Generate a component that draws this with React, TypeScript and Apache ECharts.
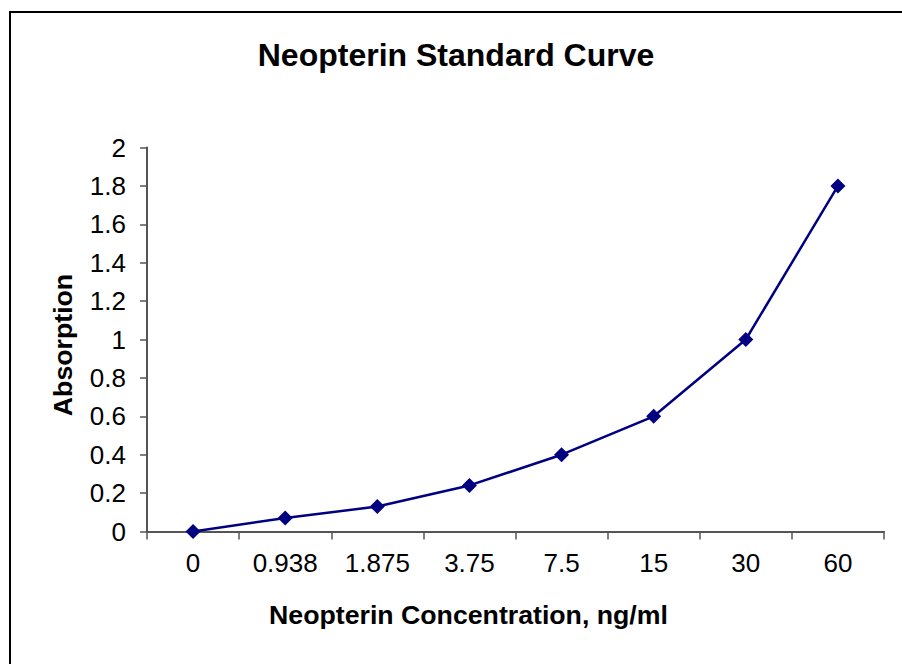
import React, { useEffect, useRef } from "react";
import * as echarts from "echarts";

const categories = ["0", "0.938", "1.875", "3.75", "7.5", "15", "30", "60"];
const absorption = [0, 0.07, 0.13, 0.24, 0.4, 0.6, 1.0, 1.8];
const titleText = "Neopterin Standard Curve";
const xName = "Neopterin Concentration, ng/ml";
const yName = "Absorption";

const FONT = "Arial, 'Liberation Sans', Helvetica, sans-serif";

export default function App() {
  const ref = useRef<HTMLDivElement>(null);
  useEffect(() => {
    document.body.style.margin = "0";
    const chart = echarts.init(ref.current!, null, { renderer: "svg" });
    chart.setOption({
      animation: false,
      backgroundColor: "#ffffff",
      grid: { left: 147, top: 147.5, right: 18, bottom: 132.5, containLabel: false },
      xAxis: {
        type: "category",
        data: categories,
        boundaryGap: true,
        axisLine: { show: true, lineStyle: { color: "#555555", width: 2 } },
        axisTick: { show: true, length: 8, inside: false, lineStyle: { color: "#555555", width: 1.5 } },
        axisLabel: { color: "#000", fontFamily: FONT, fontSize: 26, margin: 18 },
        splitLine: { show: false },
      },
      yAxis: {
        type: "value",
        min: 0,
        max: 2,
        interval: 0.2,
        axisLine: { show: true, lineStyle: { color: "#555555", width: 2 } },
        axisTick: { show: true, length: 7, inside: false, lineStyle: { color: "#555555", width: 1.5 } },
        axisLabel: { color: "#000", fontFamily: FONT, fontSize: 26, margin: 21 },
        splitLine: { show: false },
      },
      series: [
        {
          type: "line",
          data: absorption,
          symbol: "diamond",
          symbolSize: 15,
          lineStyle: { color: "#000080", width: 2.5 },
          itemStyle: { color: "#000080" },
        },
      ],
      graphic: [
        {
          type: "rect",
          shape: { x: 10, y: 12, width: 1200, height: 1000 },
          style: { fill: "none", stroke: "#000", lineWidth: 2 },
          silent: true,
        },
        {
          type: "text",
          x: 456,
          y: 54.5,
          style: {
            text: titleText,
            fontFamily: FONT,
            fontSize: 32,
            fontWeight: "bold",
            fill: "#000",
            textAlign: "center",
            textVerticalAlign: "middle",
          },
        },
        {
          type: "text",
          x: 468.5,
          y: 614.5,
          style: {
            text: xName,
            fontFamily: FONT,
            fontSize: 26.7,
            fontWeight: "bold",
            fill: "#000",
            textAlign: "center",
            textVerticalAlign: "middle",
          },
        },
        {
          type: "text",
          x: 63,
          y: 345,
          rotation: Math.PI / 2,
          style: {
            text: yName,
            fontFamily: FONT,
            fontSize: 26.7,
            fontWeight: "bold",
            fill: "#000",
            textAlign: "center",
            textVerticalAlign: "middle",
          },
        },
      ],
    });
    return () => chart.dispose();
  }, []);
  return <div ref={ref} style={{ width: 902, height: 664 }} />;
}
